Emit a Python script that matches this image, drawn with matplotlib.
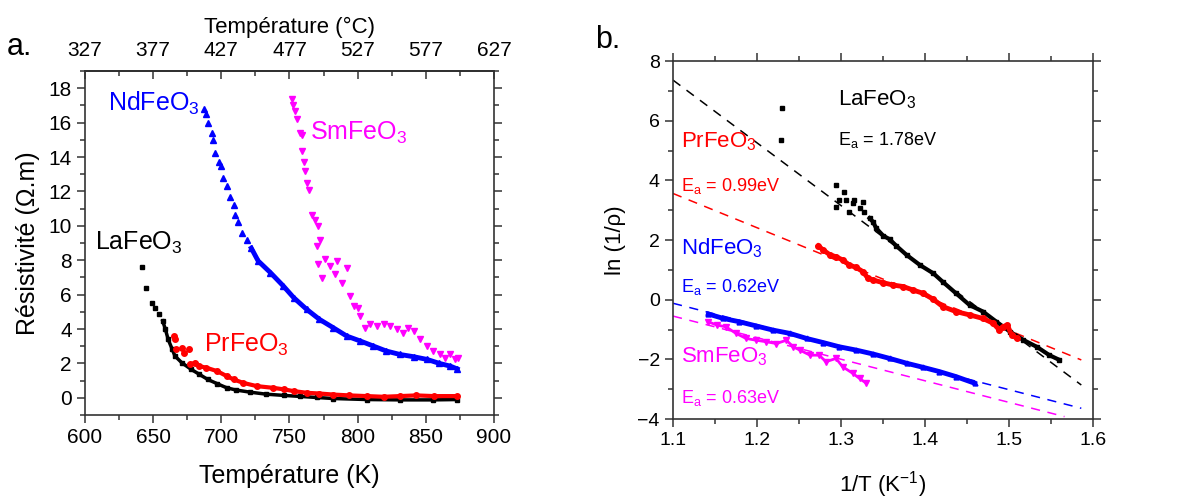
import matplotlib
matplotlib.use("Agg")
import matplotlib.pyplot as plt
from matplotlib.ticker import MultipleLocator, FixedLocator

plt.rcParams['font.family'] = ['Liberation Sans', 'DejaVu Sans']
plt.rcParams['mathtext.fontset'] = 'custom'
plt.rcParams['mathtext.rm'] = 'Liberation Sans'
plt.rcParams['mathtext.it'] = 'Liberation Sans:italic'

# ---- panel a : resistivity vs temperature (K) ----
la_T = [642, 645, 649, 651, 654, 657, 659, 661, 664, 666, 671, 678, 684, 690, 697,
        704, 711, 721, 733, 746, 758, 770, 782, 807, 831, 855, 873]
la_rho = [7.63, 6.41, 5.53, 5.24, 4.85, 4.47, 3.98, 3.4, 2.82, 2.43, 2.04, 1.65, 1.36,
          1.07, 0.82, 0.58, 0.45, 0.33, 0.21, 0.14, 0.08, 0.02, -0.04, -0.1, -0.12, -0.12, -0.1]

pr_T = [665, 666, 667, 671, 673, 676, 677, 681, 684, 689, 697, 704, 709, 716, 726,
        738, 746, 753, 763, 772, 782, 794, 807, 819, 831, 843, 856, 873]
pr_rho = [3.59, 3.4, 2.82, 2.91, 2.62, 2.82, 1.94, 2.04, 1.84, 1.75, 1.55, 1.26, 1.07,
          0.87, 0.68, 0.58, 0.49, 0.39, 0.29, 0.25, 0.19, 0.14, 0.1, 0.06, 0.1, 0.14, 0.1, 0.1]

nd_T = [687, 689, 690.5, 693, 694, 695.5, 698, 700, 701.5, 704, 706.5, 709, 710, 712.5,
        715, 718.5, 722, 727, 736, 745.5, 753, 762.5, 772, 782, 792, 802, 811.5, 821,
        831, 841, 851, 860, 868, 873]
nd_rho = [16.8, 16.5, 16.0, 15.4, 15.0, 14.25, 13.7, 13.5, 12.8, 12.3, 11.7, 11.2, 10.65,
          10.2, 9.6, 9.15, 8.7, 7.96, 7.28, 6.5, 5.83, 5.15, 4.56, 4.08, 3.59, 3.3, 3.01,
          2.72, 2.52, 2.39, 2.23, 2.0, 1.84, 1.68]

sm_T = [751.5, 752.5, 754, 755.5, 757.5, 759, 759.5, 760.5, 761.5, 762.5, 764.5, 766.5,
        768.5, 771, 772.5, 770, 771, 773.5, 776, 779.5, 783.5, 784.5, 788.5, 792, 794.5,
        797, 800.5, 801.5, 805.5, 809, 814, 819, 823.5, 828.5, 833.5, 837, 841, 845.5,
        850.5, 855.5, 860.5, 864, 867.5, 871.5, 873.5]
sm_rho = [17.4, 17.0, 16.7, 16.2, 15.4, 15.3, 14.35, 13.7, 13.2, 12.5, 12.1, 10.65, 10.35,
          9.97, 9.2, 8.8, 7.77, 6.99, 8.06, 7.67, 7.18, 7.96, 6.7, 7.57, 5.92, 5.34, 5.24,
          4.76, 4.08, 4.27, 4.17, 4.27, 4.17, 3.98, 3.79, 4.08, 3.88, 3.4, 3.01, 2.72, 2.52,
          2.33, 2.52, 2.23, 2.33]

# top axis (Celsius) ticks
celsius_major = [327, 377, 427, 477, 527, 577, 627]
celsius_minor = [352, 402, 452, 502, 552, 602]

# ---- panel b : Arrhenius plot ----
la_invT = [1.23, 1.229, 1.294, 1.303, 1.294, 1.298, 1.306, 1.314, 1.316, 1.31, 1.322,
           1.326, 1.327, 1.334, 1.338, 1.342, 1.35, 1.358, 1.366, 1.378, 1.394, 1.41,
           1.421, 1.437, 1.453, 1.469, 1.485, 1.501, 1.517, 1.533, 1.548, 1.56]
la_ln = [6.41, 5.35, 3.84, 3.62, 3.12, 3.34, 3.34, 3.23, 3.34, 2.95, 3.06, 3.28, 2.95,
         2.73, 2.61, 2.39, 2.15, 2.02, 1.8, 1.5, 1.16, 0.88, 0.6, 0.21, -0.18, -0.4,
         -0.74, -1.07, -1.35, -1.58, -1.86, -2.02]

pr_invT = [1.273, 1.279, 1.287, 1.294, 1.302, 1.31, 1.318, 1.326, 1.332, 1.338, 1.35,
           1.362, 1.374, 1.386, 1.398, 1.41, 1.421, 1.437, 1.453, 1.469, 1.481, 1.488,
           1.493, 1.498, 1.503, 1.509]
pr_ln = [1.8, 1.66, 1.5, 1.44, 1.33, 1.16, 1.08, 0.94, 0.72, 0.66, 0.57, 0.49, 0.44,
         0.32, 0.21, 0.01, -0.23, -0.4, -0.51, -0.63, -0.79, -1.0, -0.9, -0.85, -1.18, -1.29]

nd_invT = [1.142, 1.16, 1.179, 1.199, 1.219, 1.239, 1.259, 1.279, 1.298, 1.318, 1.338,
           1.358, 1.378, 1.398, 1.417, 1.437, 1.459]
nd_ln = [-0.48, -0.63, -0.74, -0.88, -1.02, -1.13, -1.3, -1.44, -1.58, -1.69, -1.82,
         -1.97, -2.13, -2.27, -2.41, -2.58, -2.8]

sm_invT = [1.142, 1.152, 1.163, 1.175, 1.187, 1.199, 1.211, 1.223, 1.235, 1.243, 1.251,
           1.263, 1.274, 1.282, 1.294, 1.302, 1.314, 1.322, 1.33]
sm_ln = [-0.74, -0.85, -0.91, -1.13, -1.3, -1.36, -1.41, -1.47, -1.36, -1.58, -1.69,
         -1.86, -1.86, -2.08, -1.97, -2.25, -2.47, -2.64, -2.8]

# linear fits (end points)
fit_la = ([1.1, 1.586], [7.36, -2.86])
fit_pr = ([1.1, 1.586], [3.56, -2.02])
fit_nd = ([1.1, 1.586], [-0.12, -3.64])
fit_sm = ([1.1, 1.566], [-0.55, -3.92])

BLUE = '#0000ff'
MAG = '#ff00ff'
RED = '#ff0000'
BLK = '#000000'

fig = plt.figure(figsize=(11.95, 4.99), dpi=100)
ax1 = fig.add_axes([0.0711, 0.1683, 0.3423, 0.6894])
ax2 = fig.add_axes([0.5632, 0.1603, 0.3515, 0.7174])


def style_axes(ax, size):
    for s in ax.spines.values():
        s.set_linewidth(1.2)
        s.set_color('#333333')
    ax.tick_params(which='both', width=1.1, labelsize=size, color='#333333')
    ax.tick_params(which='major', length=6)
    ax.tick_params(which='minor', length=3.5)
    ax.tick_params(which='both', right=True, direction='in')
    ax.tick_params(which='both', left=True, bottom=True, direction='out')


# panel a
ax1.plot(la_T[5:], la_rho[5:], '-', color=BLK, lw=2.5)
ax1.plot(la_T, la_rho, 's', color=BLK, ms=3)
ax1.plot(pr_T[6:], pr_rho[6:], '-', color=RED, lw=3)
ax1.plot(pr_T, pr_rho, 'o', color=RED, ms=4)
ax1.plot(nd_T[16:], nd_rho[16:], '-', color=BLUE, lw=3.5)
ax1.plot(nd_T, nd_rho, '^', color=BLUE, ms=4)
ax1.plot(sm_T, sm_rho, 'v', color=MAG, ms=5)

ax1.set_xlim(600, 900)
ax1.set_ylim(-1, 19)
ax1.xaxis.set_major_locator(MultipleLocator(50))
ax1.xaxis.set_minor_locator(MultipleLocator(25))
ax1.yaxis.set_major_locator(MultipleLocator(2))
ax1.yaxis.set_minor_locator(MultipleLocator(1))
style_axes(ax1, 15)
ax1.set_xlabel('Température (K)', fontsize=18, labelpad=12)
ax1.set_ylabel('Résistivité (Ω.m)', fontsize=18, labelpad=6)

top = ax1.secondary_xaxis('top', functions=(lambda k: k - 273, lambda c: c + 273))
top.xaxis.set_major_locator(FixedLocator(celsius_major))
top.xaxis.set_minor_locator(FixedLocator(celsius_minor))
top.tick_params(which='both', direction='in', width=1.1, labelsize=15, color='#333333', pad=8)
top.tick_params(which='major', length=6)
top.tick_params(which='minor', length=3.5)
top.spines['top'].set_linewidth(1.2)
top.set_xlabel('Température (°C)', fontsize=16, labelpad=6)

ax1.text(617, 17.1, r'NdFeO$_3$', color=BLUE, fontsize=18, va='center')
ax1.text(765, 15.4, r'SmFeO$_3$', color=MAG, fontsize=18, va='center')
ax1.text(607, 9.0, r'LaFeO$_3$', color=BLK, fontsize=18, va='center')
ax1.text(687, 3.1, r'PrFeO$_3$', color=RED, fontsize=18, va='center')

# panel b
ax2.plot(*fit_la, '--', color=BLK, lw=1.1, dashes=(6, 5))
ax2.plot(*fit_pr, '--', color=RED, lw=1.1, dashes=(6, 5))
ax2.plot(*fit_nd, '--', color=BLUE, lw=1.1, dashes=(6, 5))
ax2.plot(*fit_sm, '--', color=MAG, lw=1.1, dashes=(6, 5))

ax2.plot(la_invT[13:], la_ln[13:], '-', color=BLK, lw=3)
ax2.plot(la_invT, la_ln, 's', color=BLK, ms=3)
ax2.plot(pr_invT, pr_ln, '-', color=RED, lw=3.5)
ax2.plot(pr_invT, pr_ln, 'o', color=RED, ms=4)
ax2.plot(nd_invT, nd_ln, '-', color=BLUE, lw=3.5)
ax2.plot(nd_invT, nd_ln, '^', color=BLUE, ms=3.5)
ax2.plot(sm_invT, sm_ln, '-', color=MAG, lw=2)
ax2.plot(sm_invT, sm_ln, 'v', color=MAG, ms=5)

ax2.set_xlim(1.1, 1.6)
ax2.set_ylim(-4, 8)
ax2.xaxis.set_major_locator(MultipleLocator(0.1))
ax2.xaxis.set_minor_locator(MultipleLocator(0.05))
ax2.yaxis.set_major_locator(MultipleLocator(2))
ax2.yaxis.set_minor_locator(MultipleLocator(1))
style_axes(ax2, 14)
ax2.tick_params(which='both', top=True, direction='in')
ax2.tick_params(which='both', left=True, bottom=True, direction='out')
ax2.set_xlabel(r'1/T (K$^{-1}$)', fontsize=16, labelpad=14)
ax2.set_ylabel(r'ln (1/ρ)', fontsize=16, labelpad=8)

ax2.text(1.296, 6.7, r'LaFeO$_3$', color=BLK, fontsize=16, va='center')
ax2.text(1.296, 5.35, r'E$_\mathrm{a}$ = 1.78eV', color=BLK, fontsize=13, va='center')
ax2.text(1.11, 5.3, r'PrFeO$_3$', color=RED, fontsize=16, va='center')
ax2.text(1.11, 3.8, r'E$_\mathrm{a}$ = 0.99eV', color=RED, fontsize=13, va='center')
ax2.text(1.11, 1.72, r'NdFeO$_3$', color=BLUE, fontsize=16, va='center')
ax2.text(1.11, 0.43, r'E$_\mathrm{a}$ = 0.62eV', color=BLUE, fontsize=13, va='center')
ax2.text(1.11, -1.91, r'SmFeO$_3$', color=MAG, fontsize=16, va='center')
ax2.text(1.11, -3.3, r'E$_\mathrm{a}$ = 0.63eV', color=MAG, fontsize=13, va='center')

fig.text(0.006, 0.905, 'a.', fontsize=22, va='center')
fig.text(0.498, 0.92, 'b.', fontsize=22, va='center')

fig.savefig('out.png', dpi=100)
